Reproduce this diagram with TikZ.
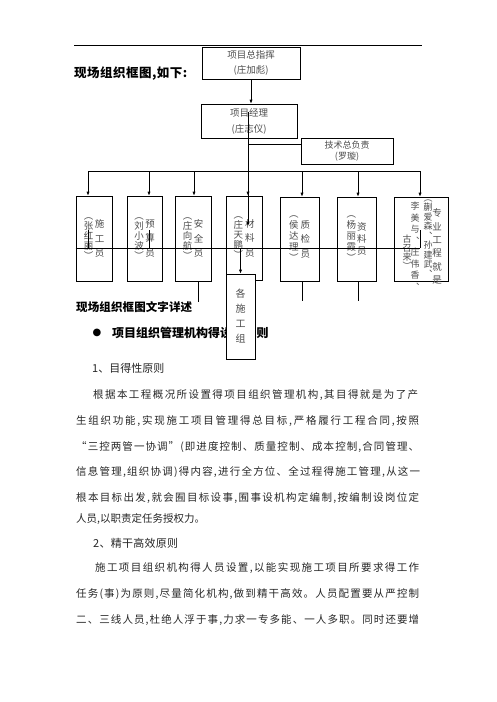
\documentclass[tikz,border=0pt]{standalone}
\usepackage{fontspec}
\setmainfont{Noto Sans CJK SC}
\newfontfamily\symfont{DejaVu Sans}
\usetikzlibrary{arrows.meta,positioning}

\makeatletter
\def\spreadline#1#2{\hbox to #1{\spread@first#2\relax}}
\def\spread@first#1{#1\spread@loop}
\def\spread@loop#1{\ifx#1\relax\else\hfil#1\expandafter\spread@loop\fi}
\def\vcol#1#2{$\vcenter{\baselineskip=#1\lineskiplimit=-\maxdimen\vcol@loop#2\relax}$}
\def\vcol@loop#1{\ifx#1\relax\else\hbox to 1em{\hss#1\hss}\expandafter\vcol@loop\fi}
\makeatother

\begin{document}
\begin{tikzpicture}[x=1pt, y=-1pt,
    box/.style={draw, line width=0.7pt, inner sep=0pt, align=center, text=black!70},
    rowbox/.style={box, minimum height=85pt, font=\fontsize{9.5}{12}\selectfont},
    vt/.style={inner sep=0pt, text=black!70, font=\fontsize{9}{10}\selectfont},
    arr/.style={-{Latex[length=4pt,width=3.2pt]}, line width=0.7pt},
    line/.style={line width=0.7pt},
    txt/.style={anchor=west, inner sep=0pt, text=black!85, font=\fontsize{10.5}{12}\selectfont},
    head/.style={anchor=west, inner sep=0pt, text=black, font=\fontsize{11.5}{13}\selectfont\bfseries}]
\useasboundingbox (0,0) rectangle (496,702);
\draw[line width=0.6pt] (74,45) -- (422,45);
\node[head, font=\fontsize{12.5}{14}\selectfont\bfseries] (title) at (74,74) {\spreadline{113pt}{现场组织框图,如下:}};

\node[box, minimum width=98pt, minimum height=32pt, font=\fontsize{9.5}{15}\selectfont] (zhh) at (251,63) {项目总指挥\\(庄加彪)};
\node[box, minimum width=96pt, minimum height=34pt, font=\fontsize{9.5}{16}\selectfont] (jl) at (249,121) {项目经理\\(庄志仪)};
\node[box, minimum width=92pt, minimum height=26pt, font=\fontsize{9}{10.5}\selectfont] (js) at (347,151) {技术总负责\\(罗璇)};
\draw[arr] (zhh.south) -- (zhh.south |- jl.north);

\coordinate (t0) at (248,112);
\coordinate (t1) at (248,144);
\coordinate (bus) at (248,171);
\coordinate (busl) at (88,171);
\coordinate (busr) at (420,171);
\draw[line] (t0) -- (bus);
\draw[line] (t1) -- (t1 -| js.west);
\draw[line] (busl) -- (busr);

\node[rowbox, minimum width=36pt] (b1) at (94,238.5) {\vcol{10pt}{︵张红丽︶}\kern1.5pt\vcol{14.5pt}{施工员}};
\node[rowbox, minimum width=35pt] (b2) at (144.5,238.5) {\vcol{10pt}{︵刘小波︶}\kern1.5pt\vcol{14.5pt}{预算员}};
\node[rowbox, minimum width=36pt] (b3) at (193,238.5) {\vcol{10pt}{︵庄向航︶}\kern1.5pt\vcol{14.5pt}{安全员}};
\node[rowbox, minimum width=36pt, minimum height=84pt] (b4) at (244,238) {\vcol{10pt}{︵庄天鹏︶}\kern2pt\vcol{14.5pt}{材料员}};
\node[rowbox, minimum width=39pt, minimum height=84pt] (b5) at (299.5,239) {\vcol{11pt}{︵侯达理︶}\kern2pt\vcol{14.5pt}{质检员}};
\node[rowbox, minimum width=39pt, minimum height=84pt] (b6) at (356.5,239) {\vcol{11pt}{︵杨丽霞︶}\kern1pt\vcol{12pt}{资料员}};
\node[rowbox, minimum width=54pt, minimum height=84pt] (b7) at (421,239) {};
\node[vt, font=\fontsize{9.5}{12}\selectfont] (b7a) at (437,246.5) {\vcol{13.4pt}{专业工程就是}};
\node[vt] (b7b) at (428,238.5) {\vcol{9.5pt}{︵蒯爱森︑孙建武︑}};
\node[vt] (b7c) at (415,246) {\vcol{11.5pt}{李美与︑庄伟香︑}};
\node[vt] (b7d) at (407,252) {\vcol{9pt}{古召来︶}};

\foreach \x/\b in {88/b1,149/b2,194/b3,248/b4,302/b5,358/b6,420/b7} {
  \coordinate (d\b) at (\x,171);
  \draw[arr] (d\b) -- (d\b |- \b.north);
}
\coordinate (tend) at (248,226);
\draw[arr] (bus) -- (tend);

\coordinate (mr) at (420,248);
\draw[line] (b1.west |- mr) -- (mr);
\foreach \b in {b1,b2,b7}
  \draw[line] (d\b |- mr) -- ++(0,-18);
\draw[line] (b3.south) ++(5,0) -- ++(0,21);
\draw[line] (b5.south) ++(2.5,0) -- ++(0,20);
\draw[line] (b6.south) ++(1.5,0) -- ++(0,20);

\node[head] (h1) at (76,307) {\spreadline{116pt}{现场组织框图文字详述}};
\node[inner sep=0pt, font=\symfont\fontsize{10}{12}\selectfont] (dot) at (97,333) {●};
\node[head, font=\fontsize{12}{13}\selectfont\bfseries] (h2a) at (112,333) {\spreadline{113pt}{项目组织管理机构得设}};
\node[head, font=\fontsize{12}{13}\selectfont\bfseries] (h2b) at (256.5,333) {则};

\node[box, fill=white, minimum width=29pt, minimum height=85pt, font=\fontsize{10}{12}\selectfont] (gz) at (240.5,316.5) {\vcol{15pt}{各施工组}};
\draw[arr] (mr -| gz.north) -- (gz.north);

\node[txt, font=\fontsize{11}{13}\selectfont] (h3) at (92,368) {1、目得性原则};
\node[txt] (p1) at (93,395) {\spreadline{325pt}{根据本工程概况所设置得项目组织管理机构,其目得就是为了产}};
\node[txt] (p2) at (76,421) {\spreadline{343pt}{生组织功能,实现施工项目管理得总目标,严格履行工程合同,按照}};
\node[txt] (p3) at (76,447) {\spreadline{343pt}{“三控两管一协调”(即进度控制、质量控制、成本控制,合同管理、}};
\node[txt] (p4) at (76,472) {\spreadline{344pt}{信息管理,组织协调)得内容,进行全方位、全过程得施工管理,从这一}};
\node[txt] (p5) at (76,498) {\spreadline{343pt}{根本目标出发,就会囿目标设事,囿事设机构定编制,按编制设岗位定}};
\node[txt] (p6) at (76,519) {\spreadline{112pt}{人员,以职责定任务授权力。}};
\node[txt, font=\fontsize{11}{13}\selectfont] (h4) at (93,543) {\spreadline{85pt}{2、精干高效原则}};
\node[txt] (q1) at (95,568) {\spreadline{324pt}{施工项目组织机构得人员设置,以能实现施工项目所要求得工作}};
\node[txt] (q2) at (76,594) {\spreadline{343pt}{任务(事)为原则,尽量简化机构,做到精干高效。人员配置要从严控制}};
\node[txt] (q3) at (76,620) {\spreadline{343pt}{二、三线人员,杜绝人浮于事,力求一专多能、一人多职。同时还要增}};
\end{tikzpicture}
\end{document}
